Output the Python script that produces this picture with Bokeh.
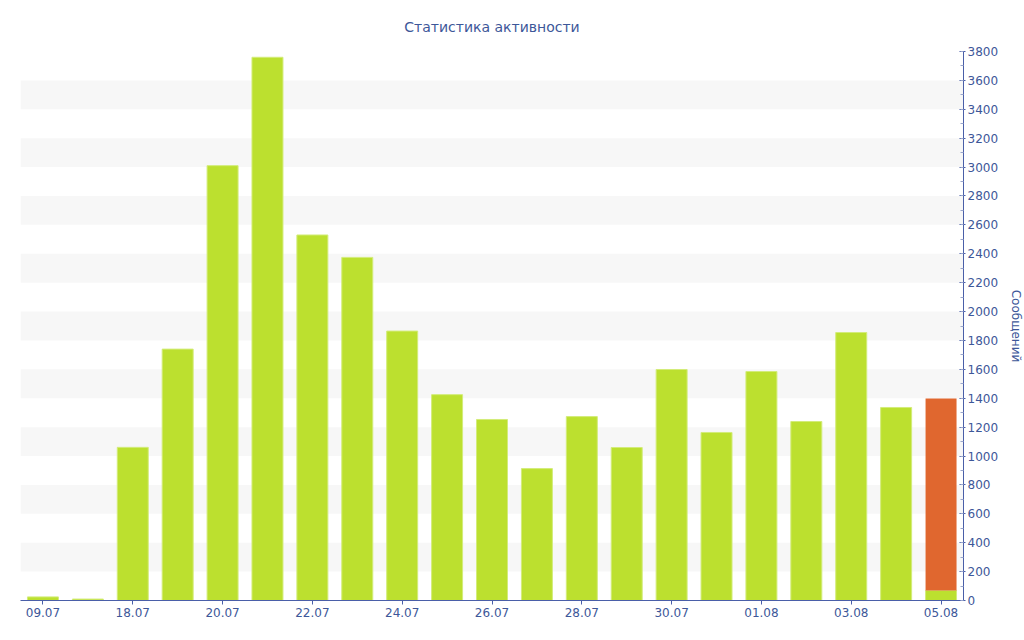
from bokeh.plotting import figure
from bokeh.models import ColumnDataSource, FixedTicker, Range1d
from bokeh.embed import file_html
from bokeh.resources import INLINE

dates = ["09.07", "10.07", "18.07", "19.07", "20.07", "21.07", "22.07", "23.07",
         "24.07", "25.07", "26.07", "27.07", "28.07", "29.07", "30.07", "31.07",
         "01.08", "02.08", "03.08", "04.08", "05.08"]
messages = [25, 10, 1060, 1740, 3010, 3760, 2530, 2375, 1865, 1425, 1253, 913,
            1273, 1059, 1599, 1163, 1585, 1239, 1855, 1336, 70]
today_extra = [0] * 20 + [1328]
y_ticks = list(range(0, 3801, 200))

TEXT = "#3d5799"
AXIS = "#4a5fa8"
FONT = "DejaVu Sans"

xs = list(range(len(dates)))
src = ColumnDataSource(dict(x=xs, messages=messages, today=today_extra))

p = figure(frame_width=943, frame_height=549, output_backend="svg",
           toolbar_location=None, y_axis_location="right",
           x_range=Range1d(-0.5, len(dates) - 0.5), y_range=Range1d(0, 3800),
           min_border_left=20, min_border_top=51, min_border_bottom=10,
           min_border_right=5, background_fill_color="white",
           border_fill_color="white", outline_line_color=None)

p.title.text = "Статистика активности"
p.title.align = "center"
p.title.text_font = FONT
p.title.text_font_size = "14px"
p.title.text_font_style = "normal"
p.title.text_color = TEXT
p.title.standoff = 33

p.vbar_stack(["messages", "today"], x="x", width=0.69, source=src,
             fill_color=["#bce02f", "#e0672f"], line_color=["#d3ec7a", None],
             line_width=1)

p.xgrid.grid_line_color = None
p.ygrid.grid_line_color = None
p.ygrid.band_fill_color = "#f7f7f7"
p.ygrid.band_fill_alpha = 1

p.xaxis.ticker = FixedTicker(ticks=xs[::2])
p.xaxis.major_label_overrides = {i: dates[i] for i in xs}
p.yaxis.ticker = FixedTicker(ticks=y_ticks, minor_ticks=list(range(0, 3801, 100)))
p.yaxis.axis_label = "Сообщений"

for ax in (p.xaxis, p.yaxis):
    ax.axis_line_color = AXIS
    ax.major_tick_line_color = AXIS
    ax.minor_tick_line_color = "#9aa6cc"
    ax.major_label_text_color = TEXT
    ax.major_label_text_font = FONT
    ax.major_label_text_font_size = "12px"
    ax.axis_label_text_color = TEXT
    ax.axis_label_text_font = FONT
    ax.axis_label_text_font_size = "12px"
    ax.axis_label_text_font_style = "normal"

p.xaxis.major_tick_in = 0
p.xaxis.major_tick_out = 4
p.xaxis.minor_tick_line_color = None
p.xaxis.major_label_standoff = 3
p.yaxis.major_tick_in = 4
p.yaxis.major_tick_out = 2
p.yaxis.minor_tick_in = 3
p.yaxis.minor_tick_out = 0
p.yaxis.major_label_standoff = 2
p.yaxis.axis_label_standoff = 8

open("out.html", "w").write(file_html(p, INLINE))
